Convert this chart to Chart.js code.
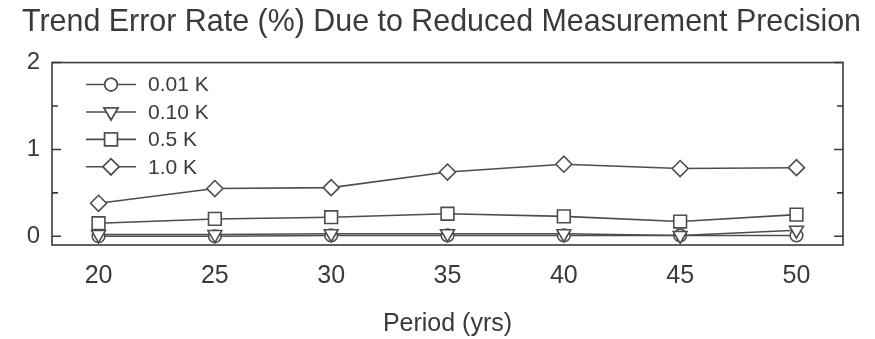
<!DOCTYPE html>
<html>
<head>
<meta charset="utf-8">
<script src="https://cdn.jsdelivr.net/npm/chart.js@4.4.1/dist/chart.umd.min.js"></script>
<style>
  html, body { margin: 0; padding: 0; background: #fff; }
  #wrap { width: 875px; height: 339px; }
</style>
</head>
<body>
<div id="wrap"><canvas id="chart"></canvas></div>
<script>
// Period of record (years) on the x axis
const periods = [20, 25, 30, 35, 40, 45, 50];

// Trend error rate (%) per measurement precision
const seriesLabels = ['0.01 K', '0.10 K', '0.5 K', '1.0 K'];
const err001 = [0.00, 0.00, 0.01, 0.01, 0.01, 0.01, 0.01];
const err010 = [0.02, 0.02, 0.03, 0.03, 0.03, 0.01, 0.07];
const err05 = [0.15, 0.20, 0.22, 0.26, 0.23, 0.17, 0.25];
const err10 = [0.38, 0.55, 0.56, 0.74, 0.83, 0.78, 0.79];

// Y axis ticks
const yMajorTicks = [0, 1, 2];
const yMinorTicks = [0.5, 1.5];

const FONT = "'Liberation Sans', Arial, sans-serif";
const INK = '#3a3a3a';
const LINE = '#4d4d4d';

const toPoints = (vals) => periods.map((p, i) => ({ x: p, y: vals[i] }));

const makeSet = (label, vals, style, radius, rotation) => ({
    label: label,
    data: toPoints(vals),
    borderColor: LINE,
    borderWidth: 1.6,
    pointStyle: style,
    pointRadius: radius,
    pointRotation: rotation || 0,
    pointBackgroundColor: '#fff',
    pointBorderColor: LINE,
    pointBorderWidth: 1.6,
    tension: 0
});

const datasets = [
    makeSet(seriesLabels[3], err10, 'rectRot', 8),
    makeSet(seriesLabels[2], err05, 'rect', 9),
    makeSet(seriesLabels[1], err010, 'triangle', 8, 180),
    makeSet(seriesLabels[0], err001, 'circle', 6.3)
];

/**
 * Frame around the plot area with inward y ticks on both sides
 */
const framePlugin = {
    id: 'frame',
    afterDatasetsDraw(chart) {
        const { ctx, chartArea: a, scales } = chart;
        ctx.save();
        ctx.strokeStyle = INK;
        ctx.lineWidth = 1.6;
        ctx.strokeRect(a.left, a.top, a.right - a.left, a.bottom - a.top);

        const tick = (v, len) => {
            const y = scales.y.getPixelForValue(v);
            ctx.beginPath();
            ctx.moveTo(a.left, y);
            ctx.lineTo(a.left + len, y);
            ctx.moveTo(a.right, y);
            ctx.lineTo(a.right - len, y);
            ctx.stroke();
        };
        yMajorTicks.forEach(v => tick(v, 9));
        yMinorTicks.forEach(v => tick(v, 6));
        ctx.restore();
    }
};

/**
 * Legend drawn inside the plot, line with marker through it
 */
const insideLegend = {
    id: 'insideLegend',
    afterDraw(chart) {
        const { ctx, chartArea: a } = chart;
        const order = [3, 2, 1, 0];
        ctx.save();
        ctx.font = `21px ${FONT}`;
        ctx.textBaseline = 'middle';
        order.forEach((dsIndex, row) => {
            const ds = chart.data.datasets[dsIndex];
            const y = a.top + 22 + row * 27.4;
            const x0 = a.left + 34;
            const x1 = a.left + 84;
            ctx.strokeStyle = LINE;
            ctx.lineWidth = 1.6;
            ctx.beginPath();
            ctx.moveTo(x0, y);
            ctx.lineTo(x1, y);
            ctx.stroke();
            ctx.fillStyle = '#fff';
            Chart.helpers.drawPoint(ctx, {
                pointStyle: ds.pointStyle,
                radius: ds.pointRadius,
                rotation: ds.pointRotation,
                borderWidth: 1.6
            }, (x0 + x1) / 2, y);
            ctx.fill();
            ctx.stroke();
            ctx.fillStyle = INK;
            ctx.fillText(ds.label, a.left + 96, y + 1);
        });
        ctx.restore();
    }
};

const chart = new Chart(document.getElementById('chart'), {
    type: 'line',
    data: { datasets: datasets },
    options: {
        responsive: true,
        maintainAspectRatio: false,
        animation: false,
        layout: { padding: { left: 22, right: 14, top: 0, bottom: 0 } },
        plugins: {
            legend: { display: false },
            tooltip: { enabled: false },
            title: {
                display: true,
                text: 'Trend Error Rate (%) Due to Reduced Measurement Precision',
                color: INK,
                font: { family: FONT, size: 31.3, weight: 'normal' },
                padding: { top: 4, bottom: 21 }
            }
        },
        scales: {
            x: {
                type: 'linear',
                min: 18,
                max: 52,
                afterBuildTicks: (scale) => {
                    scale.ticks = periods.map(v => ({ value: v }));
                },
                grid: { display: false, drawTicks: false },
                border: { display: false },
                ticks: {
                    color: INK,
                    font: { family: FONT, size: 25 },
                    padding: 16,
                    maxRotation: 0
                },
                title: {
                    display: true,
                    text: 'Period (yrs)',
                    color: INK,
                    font: { family: FONT, size: 25 },
                    padding: { top: 2, bottom: 0 }
                }
            },
            y: {
                min: -0.1,
                max: 2,
                afterBuildTicks: (scale) => {
                    scale.ticks = yMajorTicks.map(v => ({ value: v }));
                },
                afterFit: (scale) => {
                    scale.width = 30;
                },
                grid: { display: false, drawTicks: false },
                border: { display: false },
                ticks: {
                    color: INK,
                    font: { family: FONT, size: 24 },
                    padding: 12
                }
            },
            // empty right axis, only keeps the frame off the right edge
            yRight: {
                position: 'right',
                min: -0.1,
                max: 2,
                afterFit: (scale) => {
                    scale.width = 18;
                },
                grid: { display: false, drawTicks: false },
                border: { display: false },
                ticks: { display: false }
            }
        }
    },
    plugins: [framePlugin, insideLegend]
});
</script>
</body>
</html>
